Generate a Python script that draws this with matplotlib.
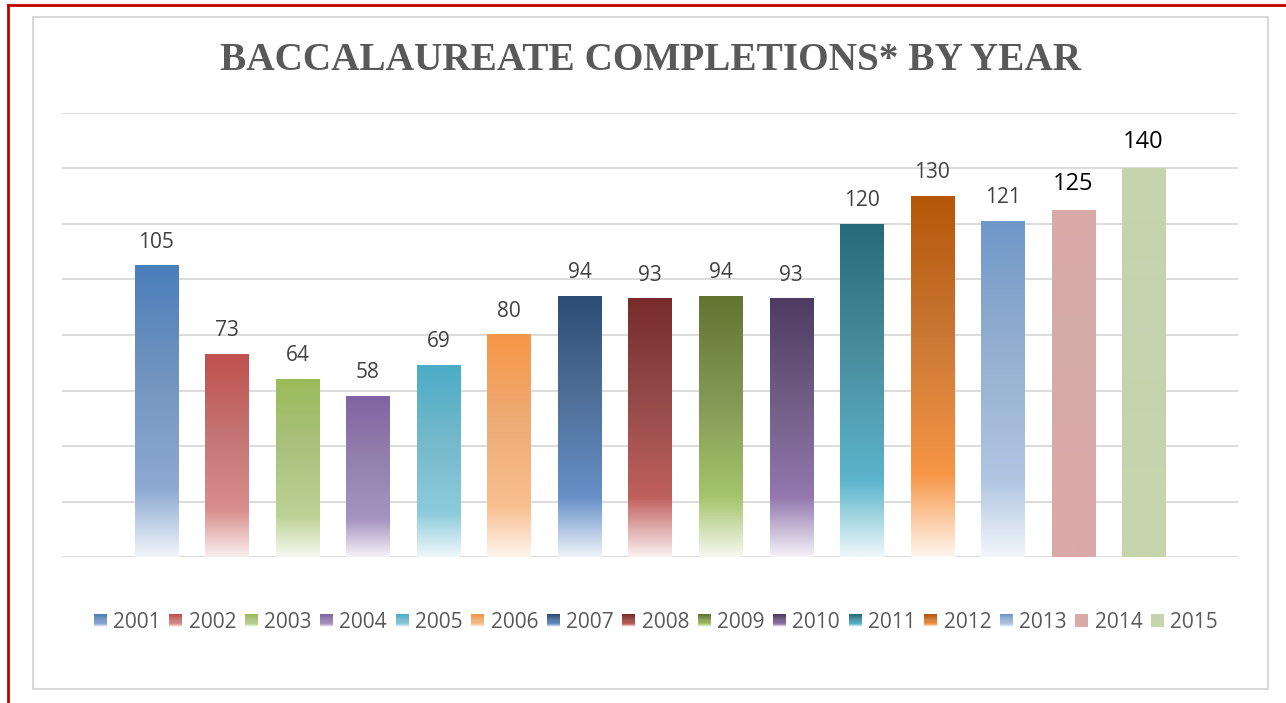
import numpy as np
import matplotlib
matplotlib.use('Agg')
import matplotlib.pyplot as plt
from matplotlib.patches import Rectangle
from matplotlib.lines import Line2D
from matplotlib.colors import to_rgb
from matplotlib.legend_handler import HandlerBase

years = ['2001', '2002', '2003', '2004', '2005', '2006', '2007', '2008',
         '2009', '2010', '2011', '2012', '2013', '2014', '2015']
completions = [105, 73, 64, 58, 69, 80, 94, 93, 94, 93, 120, 130, 121, 125, 140]

# gradient stops per bar: top colour, colour at ~23% height, bottom colour
top_colors = ['#4A7EBB', '#C0504D', '#9BBB59', '#8064A2', '#4BACC6', '#F79646',
              '#2C4D75', '#772C2A', '#5F7530', '#4D3B62', '#276A7C', '#B65708',
              '#6F98C9', '#DAA9A8', '#C6D5AC']
mid_colors = ['#8DAAD3', '#D98F8D', '#BCD295', '#A794C0', '#8CCBDC', '#F9BE8E',
              '#6690C8', '#C0605D', '#A6C46C', '#9278AE', '#5BB5CC', '#F79646',
              '#B0C5E2', '#DAA9A8', '#C6D5AC']
bot_colors = ['#F2F5FA', '#F9EEEE', '#F6F9F0', '#F5F2F8', '#EFF8FA', '#FEF5EE',
              '#EEF3F9', '#FAF0F0', '#F5F8EF', '#F4F2F7', '#EFF8FA', '#FFF6EE',
              '#F3F6FB', '#DAA9A8', '#C6D5AC']
big_label = [False] * 13 + [True, True]

MID = 0.23


def gradient(i, n=256):
    t = np.linspace(0, 1, n)
    top = np.array(to_rgb(top_colors[i]))
    mid = np.array(to_rgb(mid_colors[i]))
    # Excel-like blend passes through slightly greyer tones between mid and top
    grey = (top + mid) / 2
    grey = grey * 0.85 + grey.mean() * 0.15
    stops = [0, MID, (MID + 1) / 2, 1]
    cols = np.array([to_rgb(bot_colors[i]), mid, grey, top])
    img = np.stack([np.interp(t, stops, cols[:, k]) for k in range(3)], axis=1)
    return img[:, None, :]


class GradHandler(HandlerBase):
    def __init__(self, idx):
        super().__init__()
        self.idx = idx

    def create_artists(self, legend, orig_handle, xdescent, ydescent,
                       width, height, fontsize, trans):
        g = gradient(self.idx, 12)[:, 0, :]
        arts = []
        side = min(width, height)
        for k in range(12):
            r = Rectangle((-xdescent, -ydescent + side * k / 12), side, side / 12 + 0.3,
                          facecolor=g[k], edgecolor='none', transform=trans)
            arts.append(r)
        return arts


fig = plt.figure(figsize=(12.86, 7.03), dpi=100)
W, H = 1286, 703

# outer frames
fig.add_artist(Rectangle((33 / W, 1 - 689 / H), (1268 - 33) / W, (689 - 17) / H,
                         transform=fig.transFigure, facecolor='white',
                         edgecolor='#D9D9D9', linewidth=1.5, zorder=0))
fig.add_artist(Line2D([8 / W, 1], [1 - 5 / H, 1 - 5 / H], transform=fig.transFigure,
                      color='#C00000', linewidth=2))
fig.add_artist(Line2D([8 / W, 8 / W], [0, 1 - 5 / H], transform=fig.transFigure,
                      color='#C00000', linewidth=2))

ax = fig.add_axes([62 / W, 1 - 557 / H, (1238 - 62) / W, (557 - 113) / H])
ax.patch.set_alpha(0)

x = np.arange(len(years))
width = 0.61
bars = ax.bar(x, completions, width=width, color=top_colors, zorder=2)
for i, b in enumerate(bars):
    x0 = b.get_x()
    h = b.get_height()
    ax.imshow(gradient(i), extent=(x0, x0 + width, 0, h), origin='lower',
              aspect='auto', interpolation='bilinear', zorder=3)
    b.set_facecolor('none')

for i, v in enumerate(completions):
    if big_label[i]:
        ax.annotate(str(v), (x[i], v), xytext=(0, 19), textcoords='offset points',
                    ha='center', va='center', fontsize=17, color='black',
                    family='Open Sans')
    else:
        ax.annotate(str(v), (x[i], v), xytext=(0, 17), textcoords='offset points',
                    ha='center', va='center', fontsize=15, color='#404040',
                    family='Open Sans')

ax.set_xlim(-1.34, 15.34)
ax.set_ylim(0, 160)
ax.set_yticks(np.arange(0, 161, 20))
ax.set_xticks([])
ax.tick_params(left=False, labelleft=False)
ax.grid(axis='y', color='#D9D9D9', linewidth=1.3, zorder=0)
ax.set_axisbelow(True)
for s in ax.spines.values():
    s.set_visible(False)

fig.text(650 / W, 1 - 60 / H, 'BACCALAUREATE COMPLETIONS* BY YEAR', ha='center',
         va='center', fontsize=28.3, fontweight='bold', color='#595959',
         family='Liberation Serif')

handles = [Rectangle((0, 0), 1, 1) for _ in years]
hmap = {h: GradHandler(i) for i, h in enumerate(handles)}
fig.legend(handles, years, handler_map=hmap, ncol=15, loc='center',
           bbox_to_anchor=(656 / W, 1 - 622 / H), frameon=False,
           prop={'family': 'Open Sans', 'size': 15},
           handlelength=0.62, handleheight=0.62, handletextpad=0.3,
           columnspacing=0.42, labelcolor='#595959')

fig.savefig('out.png', dpi=100)
